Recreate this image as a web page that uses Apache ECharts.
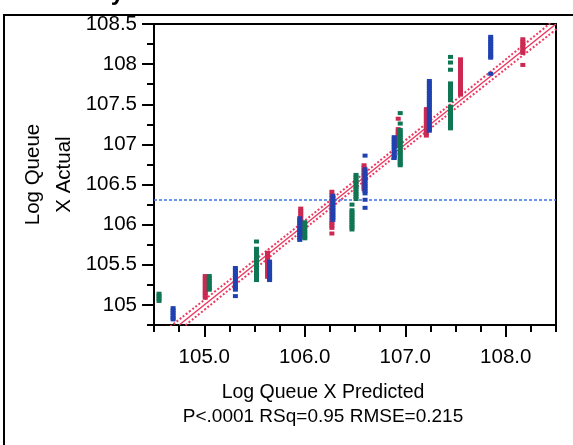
<!DOCTYPE html>
<html>
<head>
<meta charset="utf-8">
<script src="https://cdn.jsdelivr.net/npm/echarts@6/dist/echarts.min.js"></script>
<style>
  html, body { margin: 0; padding: 0; background: #fff; }
  #chart { width: 573px; height: 445px; }
</style>
</head>
<body>
<div id="chart"></div>
<script>
// Predicted values (x) and the actual values observed at each predicted value, per group
const redPred = [105.01, 105.63, 105.96, 106.27, 106.59, 106.93, 107.21, 107.55, 108.17];
const redActual = [
  [105.36, 105.33, 105.30, 105.27, 105.24, 105.21, 105.18, 105.15, 105.12, 105.09],
  [105.65, 105.62, 105.59, 105.56, 105.53, 105.50, 105.47, 105.44, 105.41, 105.38, 105.35],
  [106.20, 106.17, 106.14, 106.11, 106.08, 106.05, 106.02, 105.99, 105.96, 105.93, 105.90, 105.87],
  [106.41, 106.37, 106.33, 106.29, 106.25, 106.21, 106.17, 106.13, 106.09, 106.05, 106.02, 105.99, 105.96, 105.89],
  [106.74, 106.71, 106.68, 106.65, 106.62, 106.59, 106.56, 106.53, 106.50, 106.47, 106.44],
  [107.32, 107.19, 107.16, 107.13, 107.10, 107.07, 107.04, 107.01, 106.98],
  [107.44, 107.41, 107.38, 107.35, 107.32, 107.29, 107.26, 107.23, 107.20, 107.17, 107.14, 107.11],
  [108.06, 108.03, 108.00, 107.97, 107.94, 107.91, 107.88, 107.85, 107.82, 107.79, 107.76, 107.73, 107.70, 107.67, 107.64, 107.62],
  [108.31, 108.28, 108.25, 108.22, 108.19, 108.16, 108.14, 107.99]
];

const bluePred = [104.69, 105.31, 105.65, 105.95, 106.28, 106.60, 106.89, 107.24, 107.85];
const blueActual = [
  [104.96, 104.93, 104.90, 104.87, 104.84, 104.82],
  [105.46, 105.43, 105.40, 105.37, 105.34, 105.31, 105.28, 105.25, 105.22, 105.19, 105.11],
  [105.54, 105.51, 105.48, 105.45, 105.42, 105.39, 105.36, 105.33, 105.31],
  [106.08, 106.05, 106.02, 105.99, 105.96, 105.93, 105.90, 105.87, 105.84, 105.81],
  [106.36, 106.33, 106.30, 106.27, 106.24, 106.21, 106.18, 106.15, 106.12, 106.09, 106.06],
  [106.86, 106.69, 106.66, 106.63, 106.60, 106.57, 106.54, 106.51, 106.48, 106.45, 106.42, 106.39, 106.31, 106.21],
  [107.09, 107.06, 107.03, 107.00, 106.97, 106.94, 106.91, 106.88, 106.85, 106.83],
  [107.79, 107.76, 107.73, 107.70, 107.67, 107.64, 107.61, 107.58, 107.55, 107.52, 107.49, 107.46, 107.43, 107.40, 107.37, 107.34, 107.31, 107.28, 107.25, 107.22, 107.19, 107.17],
  [108.34, 108.31, 108.28, 108.25, 108.22, 108.19, 108.16, 108.13, 108.10, 108.08, 107.88]
];

const greenPred = [104.55, 105.05, 105.52, 106.00, 106.47, 106.51, 106.95, 107.45];
const greenActual = [
  [105.14, 105.11, 105.08, 105.05],
  [105.36, 105.33, 105.30, 105.27, 105.24, 105.21, 105.19],
  [105.79, 105.70, 105.67, 105.64, 105.61, 105.58, 105.55, 105.52, 105.49, 105.46, 105.43, 105.40, 105.37, 105.34, 105.31],
  [106.03, 106.00, 105.97, 105.94, 105.91, 105.88, 105.85, 105.83],
  [106.25, 106.18, 106.15, 106.12, 106.09, 106.06, 106.03, 106.00, 105.97, 105.94],
  [106.62, 106.59, 106.56, 106.53, 106.50, 106.47, 106.44, 106.41, 106.38, 106.35, 106.32],
  [107.39, 107.26, 107.18, 107.15, 107.12, 107.09, 107.06, 107.03, 107.00, 106.97, 106.94, 106.91, 106.88, 106.85, 106.82, 106.79, 106.76, 106.74],
  [108.09, 108.02, 107.93, 107.76, 107.73, 107.70, 107.67, 107.64, 107.61, 107.58, 107.55, 107.47, 107.44, 107.41, 107.38, 107.35, 107.32, 107.29, 107.26, 107.23, 107.20]
];

// Fitted line (actual = predicted) with its confidence curves
const fitX = [104.75, 108.5];
const fitY = [104.75, 108.5];
const bandX = [104.6, 105.5, 106.3, 107.0, 107.75, 108.6];
const bandUpper = [104.67, 105.555, 106.35, 107.05, 107.806, 108.67];
const bandLower = [104.53, 105.445, 106.25, 106.95, 107.694, 108.53];

// Mean of the actual values
const meanActual = 106.307;

// Axis ranges and tick positions
const xRange = [104.5, 108.5];
const yRange = [104.75, 108.5];
const xMajorTicks = [105, 106, 107, 108];
const yMajorTicks = [105, 105.5, 106, 106.5, 107, 107.5, 108, 108.5];

const statsText = 'P<.0001 RSq=0.95 RMSE=0.215';
const xTitle = 'Log Queue X Predicted';
const yTitle = 'Log Queue\nX Actual';
const plotTitle = 'Actual by Predicted Plot';

const FONT = "'Liberation Sans', Arial, sans-serif";
const RED = '#cc2952';
const BLUE = '#1f42b0';
const GREEN = '#0f7553';
const LINE_RED = '#ec3a62';

function toPoints(pred, actual) {
  const out = [];
  pred.forEach((p, i) => actual[i].forEach(a => out.push([p, a])));
  return out;
}
function zipXY(xs, ys) { return xs.map((x, i) => [x, ys[i]]); }

const chart = echarts.init(document.getElementById('chart'), null, { renderer: 'canvas' });

const baseAxisLine = { show: true, lineStyle: { color: '#000', width: 2 } };

const scatterSeries = (name, color, data) => ({
  name, type: 'scatter', data,
  symbol: 'rect', symbolSize: [5, 4],
  itemStyle: { color, opacity: 1 },
  silent: true, z: 5
});

chart.setOption({
  animation: false,
  backgroundColor: '#fff',
  grid: {
    left: 154, top: 24, right: 17, bottom: 120,
    show: true, borderColor: '#000', borderWidth: 2, backgroundColor: 'transparent'
  },
  xAxis: [
    {
      type: 'value', position: 'bottom', min: xRange[0], max: xRange[1], interval: 0.25,
      axisLine: baseAxisLine,
      axisTick: { show: true, inside: false, length: 7, lineStyle: { color: '#000', width: 2 } },
      axisLabel: {
        show: true, margin: 22, color: '#000', fontFamily: FONT, fontSize: 20.5,
        formatter: v => (v % 1 === 0 ? v.toFixed(1) : '')
      },
      splitLine: { show: false }
    },
    {
      type: 'value', position: 'bottom', min: xRange[0], max: xRange[1],
      axisLine: { show: false },
      axisTick: { show: true, inside: false, length: 12, customValues: xMajorTicks, lineStyle: { color: '#000', width: 2 } },
      axisLabel: { show: false },
      splitLine: { show: false }
    }
  ],
  yAxis: [
    {
      type: 'value', position: 'left', min: yRange[0], max: yRange[1], interval: 0.25,
      axisLine: baseAxisLine,
      axisTick: { show: true, inside: false, length: 7, lineStyle: { color: '#000', width: 2 } },
      axisLabel: {
        show: true, margin: 17, color: '#000', fontFamily: FONT, fontSize: 20.5,
        formatter: v => (v % 0.5 === 0 ? String(v) : '')
      },
      splitLine: { show: false }
    },
    {
      type: 'value', position: 'left', min: yRange[0], max: yRange[1],
      axisLine: { show: false },
      axisTick: { show: true, inside: false, length: 12, customValues: yMajorTicks, lineStyle: { color: '#000', width: 2 } },
      axisLabel: { show: false },
      splitLine: { show: false }
    }
  ],
  series: [
    {
      type: 'line', data: zipXY(bandX, bandUpper), symbol: 'none', smooth: true, silent: true, z: 2,
      lineStyle: { color: LINE_RED, width: 2, type: [2, 2] }
    },
    {
      type: 'line', data: zipXY(bandX, bandLower), symbol: 'none', smooth: true, silent: true, z: 2,
      lineStyle: { color: LINE_RED, width: 2, type: [2, 2] }
    },
    {
      type: 'line', data: zipXY(fitX, fitY), symbol: 'none', silent: true, z: 2,
      lineStyle: { color: LINE_RED, width: 1.5 }
    },
    {
      type: 'line', data: [[xRange[0], meanActual], [xRange[1], meanActual]], symbol: 'none', silent: true, z: 2,
      lineStyle: { color: '#3a74e6', width: 1.5, type: [3, 2] }
    },
    scatterSeries('Red', RED, toPoints(redPred, redActual)),
    scatterSeries('Green', GREEN, toPoints(greenPred, greenActual)),
    scatterSeries('Blue', BLUE, toPoints(bluePred, blueActual))
  ],
  graphic: [
    {
      type: 'rect', silent: true, z: 0,
      shape: { x: 4, y: 15, width: 800, height: 800 },
      style: { fill: 'none', stroke: '#000', lineWidth: 2 }
    },
    {
      type: 'text', silent: true, x: 16, y: -6.5,
      style: { text: plotTitle, font: `bold 24px ${FONT}`, fill: '#000', textAlign: 'left', textVerticalAlign: 'middle' }
    },
    {
      type: 'text', silent: true, x: 49, y: 174.5, rotation: Math.PI / 2,
      style: { text: yTitle, font: `20.5px ${FONT}`, fill: '#000', textAlign: 'center', textVerticalAlign: 'middle', lineHeight: 31 }
    },
    {
      type: 'text', silent: true, x: 323, y: 393,
      style: { text: xTitle, font: `19.5px ${FONT}`, fill: '#000', textAlign: 'center', textVerticalAlign: 'middle' }
    },
    {
      type: 'text', silent: true, x: 323, y: 417,
      style: { text: statsText, font: `19px ${FONT}`, fill: '#000', textAlign: 'center', textVerticalAlign: 'middle' }
    }
  ]
});
</script>
</body>
</html>
